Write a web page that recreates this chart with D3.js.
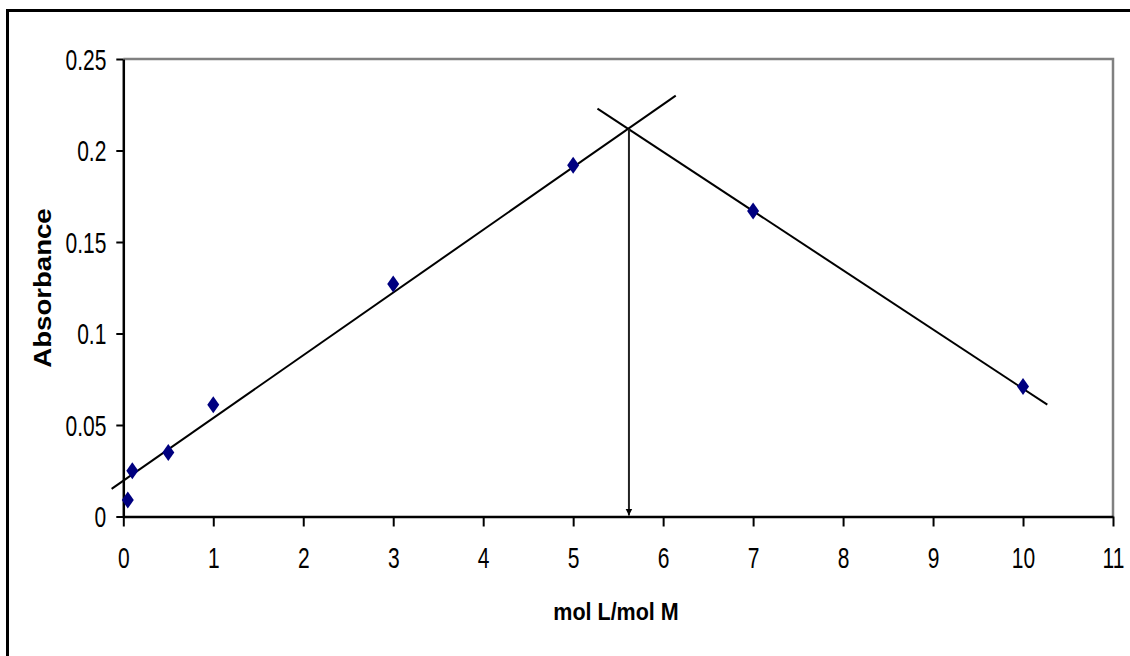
<!DOCTYPE html>
<html>
<head>
<meta charset="utf-8">
<script src="https://cdn.jsdelivr.net/npm/d3@7"></script>
<style>
  html, body { margin: 0; padding: 0; background: #fff; overflow: hidden; }
  svg { display: block; overflow: hidden; }
  .tick text { font-family: "Liberation Sans", Arial, sans-serif; }
  .title { font-family: "Liberation Sans", Arial, sans-serif; font-weight: bold; }
</style>
</head>
<body>
<div id="chart"></div>
<script>
// measured points
var ratio = [0.05, 0.1, 0.5, 1, 3, 5, 7, 10];
var absorbance = [0.009, 0.025, 0.035, 0.061, 0.127, 0.192, 0.167, 0.071];

// the two hand-drawn fit lines, as data-space end points
var riseX = [-0.13, 6.14];
var riseY = [0.0151, 0.2300];
var fallX = [5.27, 10.27];
var fallY = [0.2229, 0.0611];

// crossing point, marked with an arrow down to the axis
var crossX = 5.62;
var crossY = 0.2116;

var xTicks = [0, 1, 2, 3, 4, 5, 6, 7, 8, 9, 10, 11];
var yTicks = [0, 0.05, 0.1, 0.15, 0.2, 0.25];

var svg = d3.select("#chart")
    .append("svg")
    .attr("width", 1130)
    .attr("height", 656);

// white backing, then the outer frame (only top and left show)
svg.append("rect")
    .attr("width", 1130).attr("height", 656)
    .attr("fill", "#fff");
svg.append("path")
    .attr("d", "M7.5,700V10.5H1200")
    .attr("fill", "none")
    .attr("stroke", "#000")
    .attr("stroke-width", 3);

var xScale = d3.scaleLinear().domain([0, 11]).range([123.3, 1113]);
var yScale = d3.scaleLinear().domain([0, 0.25]).range([516.5, 59]);

// plot area border, grey on top and right
svg.append("path")
    .attr("d", "M" + xScale(0) + "," + yScale(0.25) + "H" + xScale(11) + "V" + yScale(0))
    .attr("fill", "none")
    .attr("stroke", "#808080")
    .attr("stroke-width", 2.5);

var defs = svg.append("defs");
defs.append("marker")
    .attr("id", "head")
    .attr("viewBox", "0 0 10 10")
    .attr("refX", 10).attr("refY", 5)
    .attr("markerWidth", 7).attr("markerHeight", 9)
    .attr("markerUnits", "userSpaceOnUse")
    .attr("orient", "auto")
    .append("path")
    .attr("d", "M0,0L10,5L0,10Z")
    .attr("fill", "#000");

var xAxis = d3.axisBottom(xScale).tickValues(xTicks).tickSize(10).tickSizeOuter(0).tickPadding(20);
var yAxis = d3.axisLeft(yScale).tickValues(yTicks).tickSize(7).tickSizeOuter(0).tickPadding(10)
    .tickFormat(d => String(+d.toFixed(2)));

var gx = svg.append("g")
    .attr("transform", "translate(0," + yScale(0) + ")")
    .call(xAxis);
var gy = svg.append("g")
    .attr("transform", "translate(" + xScale(0) + ",0)")
    .call(yAxis);

var stretch = 1.42;
[gx, gy].forEach(function (g) {
    g.select(".domain").attr("stroke", "#000").attr("stroke-width", 2.5);
    g.selectAll(".tick line").attr("stroke", "#000").attr("stroke-width", 2);
    g.selectAll(".tick text")
        .attr("fill", "#000")
        .style("font-size", "21px");
});
// labels in the original are tall and narrow
gx.selectAll(".tick text").each(function () {
    var t = d3.select(this);
    var y = +t.attr("y");
    t.attr("y", y / stretch).attr("transform", "scale(1," + stretch + ")");
});
gy.selectAll(".tick text").each(function () {
    d3.select(this)
        .attr("dy", null)
        .attr("dominant-baseline", "central")
        .attr("transform", "scale(1," + stretch + ")");
});

// fit lines
var line = d3.line().x(d => xScale(d[0])).y(d => yScale(d[1]));
svg.append("path")
    .datum(d3.zip(riseX, riseY))
    .attr("d", line)
    .attr("fill", "none").attr("stroke", "#000").attr("stroke-width", 2);
svg.append("path")
    .datum(d3.zip(fallX, fallY))
    .attr("d", line)
    .attr("fill", "none").attr("stroke", "#000").attr("stroke-width", 2);

// arrow from the crossing down to the x axis
svg.append("line")
    .attr("x1", xScale(crossX)).attr("y1", yScale(crossY))
    .attr("x2", xScale(crossX)).attr("y2", yScale(0) - 1)
    .attr("stroke", "#222").attr("stroke-width", 2)
    .attr("marker-end", "url(#head)");

// points as diamonds
svg.selectAll(".pt")
    .data(d3.zip(ratio, absorbance))
    .enter().append("path")
    .attr("class", "pt")
    .attr("d", "M0,-8.5L6,0L0,8.5L-6,0Z")
    .attr("transform", d => "translate(" + xScale(d[0]) + "," + yScale(d[1]) + ")")
    .attr("fill", "#000080");

// axis titles
svg.append("text")
    .attr("class", "title")
    .attr("transform", "translate(616,620) scale(1,1.15)")
    .attr("text-anchor", "middle")
    .style("font-size", "21.5px")
    .text("mol L/mol M");
svg.append("text")
    .attr("class", "title")
    .attr("transform", "translate(51,288) rotate(-90) scale(1.2,1)")
    .attr("text-anchor", "middle")
    .style("font-size", "23px")
    .text("Absorbance");
</script>
</body>
</html>
